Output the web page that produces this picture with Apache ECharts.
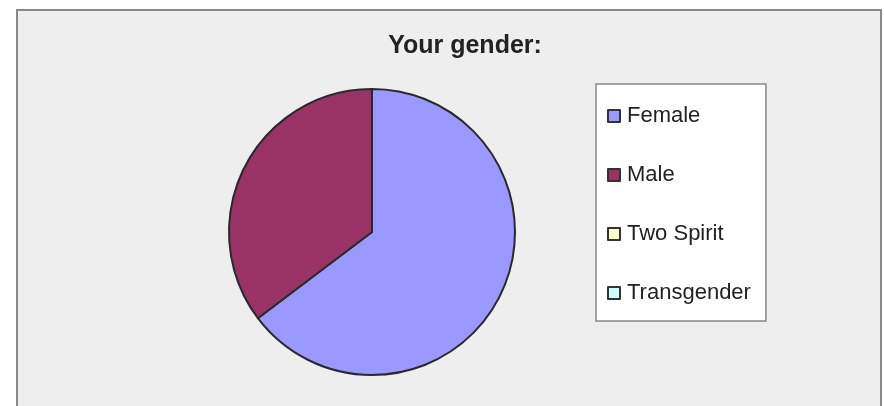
<!DOCTYPE html>
<html>
<head>
<meta charset="utf-8">
<script src="https://cdn.jsdelivr.net/npm/echarts@6/dist/echarts.min.js"></script>
<style>
	html, body { margin: 0; padding: 0; background: #ffffff; }
	#genderPie { width: 884px; height: 406px; }
</style>
</head>
<body>
<div id="genderPie"></div>
<script>
// 调查结果：性别
var categories = ["Female", "Male", "Two Spirit", "Transgender"];
var counts = [11, 6, 0, 0];
var colors = ["#9999ff", "#993366", "#ffffcc", "#ccffff"];

var genderPie = echarts.init(document.getElementById("genderPie"));
var option = {
	animation: false,
	graphic: [
		{
			type: "rect",
			z: -10,
			shape: { x: 17, y: 10, width: 864, height: 420 },
			style: { fill: "#eeeeee", stroke: "#888888", lineWidth: 2 },
		},
	],
	title: {
		text: "Your gender:",
		left: 460,
		top: 29,
		textAlign: "center",
		textStyle: {
			fontFamily: "Liberation Sans",
			fontSize: 25,
			fontWeight: "bold",
			color: "#222222",
		},
	},
	legend: {
		orient: "vertical",
		left: 596,
		top: 84,
		padding: [21, 15, 17, 11],
		itemGap: 37,
		itemWidth: 12,
		itemHeight: 12,
		icon: "rect",
		backgroundColor: "#ffffff",
		borderColor: "#888888",
		borderWidth: 1.5,
		itemStyle: {
			borderColor: "#333333",
			borderWidth: 2,
		},
		textStyle: {
			fontFamily: "Liberation Sans",
			fontSize: 22,
			color: "#222222",
			padding: [0, 0, 0, 2],
		},
		data: categories,
	},
	series: [
		{
			type: "pie",
			center: [372, 232],
			radius: 143,
			startAngle: 90,
			clockwise: true,
			label: { show: false },
			labelLine: { show: false },
			emphasis: { disabled: true },
			itemStyle: {
				borderColor: "#2a2a2a",
				borderWidth: 2,
			},
			data: categories.map(function (name, i) {
				return { name: name, value: counts[i], itemStyle: { color: colors[i] } };
			}),
		},
	],
};
genderPie.setOption(option, true);
</script>
</body>
</html>
